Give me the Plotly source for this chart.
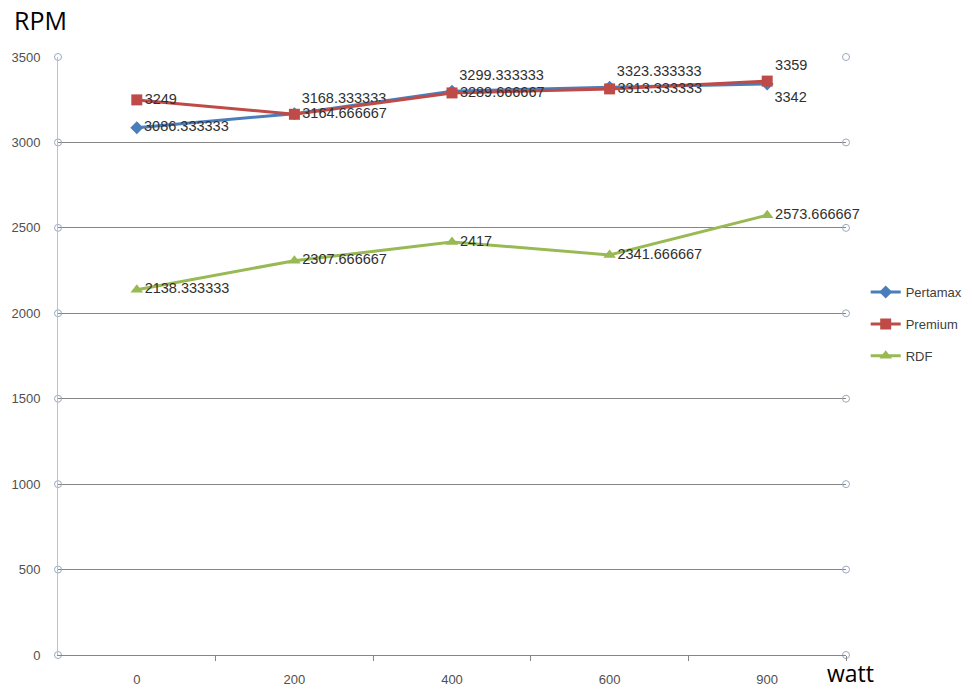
import plotly.graph_objects as go

categories = ["0", "200", "400", "600", "900"]
pertamax = [3086.333333, 3168.333333, 3299.333333, 3323.333333, 3342]
premium = [3249, 3164.666667, 3289.666667, 3313.333333, 3359]
rdf = [2138.333333, 2307.666667, 2417, 2341.666667, 2573.666667]
y_ticks = [0, 500, 1000, 1500, 2000, 2500, 3000, 3500]

pertamax_pos = ["middle right", "top right", "top right", "top right", "bottom right"]
premium_pos = ["middle right", "middle right", "middle right", "middle right", "top right"]
rdf_pos = ["middle right"] * 5

xs = list(range(len(categories)))
FONT = "Liberation Sans, Arial, sans-serif"
label_font = dict(family=FONT, size=14.5, color="#303030")

fig = go.Figure()

# decorative circles at gridline ends
xmin, xmax = -0.5, len(categories) - 0.5
fig.add_trace(go.Scatter(
    x=[xmin] * len(y_ticks) + [xmax] * len(y_ticks),
    y=y_ticks + y_ticks,
    mode="markers",
    marker=dict(symbol="circle-open", size=7, color="#9AAAC0", line=dict(width=1)),
    showlegend=False, hoverinfo="skip", cliponaxis=False,
))

def fmt(v):
    return ("%.6f" % v).rstrip("0").rstrip(".")

series = [
    ("Pertamax", pertamax, "#4A7EBB", "diamond", pertamax_pos, 10),
    ("Premium", premium, "#BE4B48", "square", premium_pos, 11),
    ("RDF", rdf, "#98B954", "triangle-up", rdf_pos, 11),
]
for name, vals, color, sym, pos, msize in series:
    fig.add_trace(go.Scatter(
        x=xs, y=vals, name=name, legendgroup=name,
        mode="lines+markers+text",
        line=dict(color=color, width=3),
        marker=dict(symbol=sym, size=msize, color=color),
        text=[fmt(v) for v in vals],
        textposition=pos,
        textfont=label_font,
        cliponaxis=False,
    ))

fig.update_layout(
    width=972, height=689,
    margin=dict(l=58, r=126, t=57, b=34, autoexpand=False),
    paper_bgcolor="white", plot_bgcolor="white",
    showlegend=True,
    legend=dict(x=1.025, y=0.632, xanchor="left", yanchor="top",
                font=dict(family=FONT, size=13, color="#404040"),
                tracegroupgap=12, itemwidth=30, bgcolor="rgba(0,0,0,0)"),
    font=dict(family=FONT),
)
fig.update_xaxes(
    range=[xmin, xmax], tickvals=xs, ticktext=categories, automargin=False,
    showgrid=False, zeroline=False, showline=True, linecolor="#868686", linewidth=1,
    ticks="", ticklabelstandoff=12, tickfont=dict(family=FONT, size=13, color="#505050"),
    minor=dict(tickvals=[i + 0.5 for i in xs], ticks="outside", ticklen=5, tickcolor="#868686"),
)
fig.update_yaxes(
    range=[0, 3500], tickvals=y_ticks, automargin=False,
    showgrid=True, gridcolor="#868686", gridwidth=1, zeroline=False,
    showline=True, linecolor="#C0C0C0", linewidth=1,
    ticks="", ticklabelstandoff=14, tickfont=dict(family=FONT, size=13, color="#505050"),
)
fig.add_annotation(text="RPM", xref="paper", yref="paper", x=-0.059, y=1.062,
                   xanchor="left", yanchor="middle", showarrow=False,
                   font=dict(family="Open Sans, sans-serif", size=25, color="black"))
fig.add_annotation(text="watt", xref="paper", yref="paper", x=0.975, y=-0.03,
                   xanchor="left", yanchor="middle", showarrow=False, borderpad=0,
                   font=dict(family="Open Sans, sans-serif", size=23, color="black"))

fig.write_html("out.html")
